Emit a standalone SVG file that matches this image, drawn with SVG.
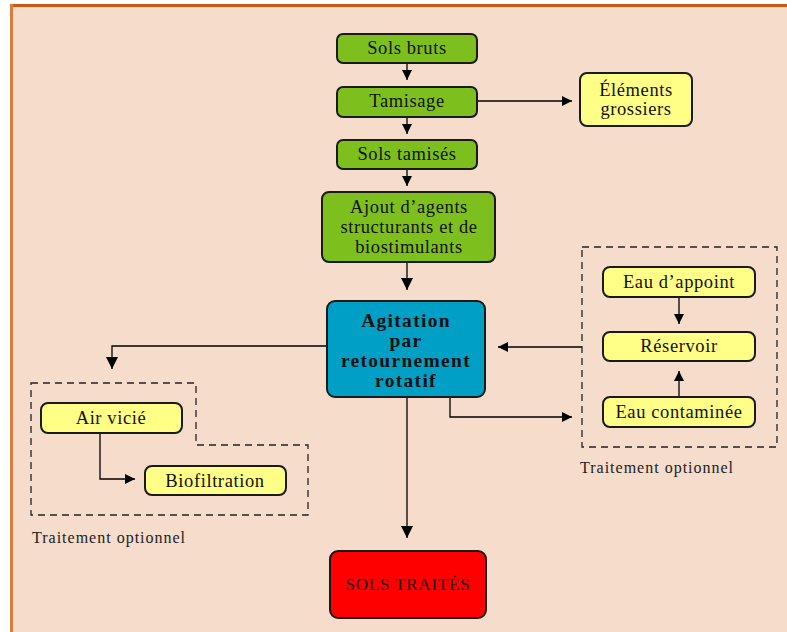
<svg xmlns="http://www.w3.org/2000/svg" width="787" height="632" viewBox="0 0 787 632">
<defs>
<marker id="ah" viewBox="0 0 10 10" refX="10" refY="5" markerWidth="10" markerHeight="10" markerUnits="userSpaceOnUse" orient="auto">
<path d="M0,0 L10,5 L0,10 z" fill="#000"/>
</marker>
<marker id="ahl" viewBox="0 0 12 12" refX="12" refY="6" markerWidth="12" markerHeight="12" markerUnits="userSpaceOnUse" orient="auto">
<path d="M0,0 L12,6 L0,12 z" fill="#000"/>
</marker>
</defs>
<style>
.g{fill:#7dbf1c;stroke:#1a1a1a;stroke-width:2}
.y{fill:#ffff88;stroke:#1a1a1a;stroke-width:2}
text{font-family:'Liberation Serif','DejaVu Serif','Times New Roman',serif}
.t{font-size:18.5px;fill:#111;text-anchor:middle;letter-spacing:0.6px}
.b{font-size:19.5px;font-weight:bold;letter-spacing:1.3px}
.s{font-size:17px;letter-spacing:0.8px}
.c{fill:none;stroke:#000;stroke-width:1.3}
.d{fill:none;stroke:#222;stroke-width:1.3;stroke-dasharray:7,5}
.lab{font-size:16px;fill:#222;letter-spacing:1px}
</style>
<rect x="0" y="0" width="787" height="632" fill="#ffffff"/>
<rect x="11" y="5" width="776" height="627" fill="#f5dccb"/>
<rect x="10" y="4" width="777" height="3" fill="#c85a14"/>
<rect x="10" y="4" width="3" height="628" fill="#e07a3c"/>

<g id="connectors">
<line class="c" x1="407" y1="63" x2="407" y2="80" marker-end="url(#ah)"/>
<line class="c" x1="407" y1="117" x2="407" y2="134" marker-end="url(#ah)"/>
<line class="c" x1="407" y1="169" x2="407" y2="186" marker-end="url(#ah)"/>
<line class="c" x1="407" y1="262" x2="407" y2="290" marker-end="url(#ahl)"/>
<line class="c" x1="477" y1="101" x2="572" y2="101" marker-end="url(#ah)"/>
<line class="c" x1="582" y1="347" x2="498" y2="347" marker-end="url(#ah)"/>
<polyline class="c" points="450,397 450,417 572,417" marker-end="url(#ah)"/>
<polyline class="c" points="327,346 112,346 112,369" marker-end="url(#ahl)"/>
<line class="c" x1="407" y1="397" x2="407" y2="538" marker-end="url(#ahl)"/>
<line class="c" x1="679" y1="297" x2="679" y2="324" marker-end="url(#ah)"/>
<line class="c" x1="679" y1="397" x2="679" y2="371" marker-end="url(#ah)"/>
<polyline class="c" points="100,433 100,479 135,479" marker-end="url(#ah)"/>
</g>

<g id="group-right">
<rect class="d" x="582" y="247" width="195" height="200"/>
<text class="lab" x="580" y="473">Traitement optionnel</text>
</g>
<g id="group-left">
<polygon class="d" points="31,383 196,383 196,445 308,445 308,515 31,515"/>
<text class="lab" x="32" y="543">Traitement optionnel</text>
</g>

<g id="sols-bruts"><rect class="g" x="337" y="34" width="140" height="29" rx="6"/><text class="t" x="407" y="54">Sols bruts</text></g>
<g id="tamisage"><rect class="g" x="337" y="87" width="140" height="30" rx="6"/><text class="t" x="407" y="107">Tamisage</text></g>
<g id="sols-tamises"><rect class="g" x="337" y="140" width="140" height="29" rx="6"/><text class="t" x="407" y="160">Sols tamisés</text></g>
<g id="ajout"><rect class="g" x="322" y="192" width="173" height="70" rx="7"/>
<text class="t" x="409" y="213">Ajout d’agents</text><text class="t" x="409" y="233">structurants et de</text><text class="t" x="409" y="253">biostimulants</text></g>
<g id="agitation"><rect x="327" y="301" width="158" height="96" rx="8" fill="#00a0c6" stroke="#1a1a1a" stroke-width="2"/>
<text class="t b" x="406" y="327">Agitation</text>
<text class="t b" x="406" y="347">par</text>
<text class="t b" x="406" y="367">retournement</text>
<text class="t b" x="406" y="387">rotatif</text></g>
<g id="elements"><rect class="y" x="580" y="73" width="112" height="53" rx="7"/><text class="t" x="636" y="96">Éléments</text><text class="t" x="636" y="115">grossiers</text></g>
<g id="eau-appoint"><rect class="y" x="603" y="267" width="152" height="30" rx="7"/><text class="t" x="679" y="288">Eau d’appoint</text></g>
<g id="reservoir"><rect class="y" x="603" y="332" width="152" height="29" rx="7"/><text class="t" x="679" y="352">Réservoir</text></g>
<g id="eau-contaminee"><rect class="y" x="603" y="397" width="152" height="30" rx="7"/><text class="t" x="679" y="418">Eau contaminée</text></g>
<g id="air-vicie"><rect class="y" x="41" y="403" width="141" height="30" rx="7"/><text class="t" x="111" y="424">Air vicié</text></g>
<g id="biofiltration"><rect class="y" x="145" y="466" width="141" height="29" rx="7"/><text class="t" x="215" y="487">Biofiltration</text></g>
<g id="sols-traites"><rect x="330" y="551" width="156" height="67" rx="8" fill="#ff0000" stroke="#1a1a1a" stroke-width="2"/><text class="t s" x="408" y="590">SOLS TRAITÉS</text></g>
</svg>
